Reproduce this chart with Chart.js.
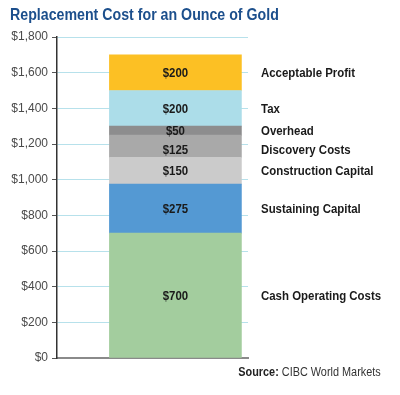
<!DOCTYPE html>
<html>
<head>
<meta charset="utf-8">
<script src="https://cdn.jsdelivr.net/npm/chart.js@4.4.0/dist/chart.umd.min.js"></script>
<style>
    html, body { margin: 0; padding: 0; background: #fff; }
    #wrap { position: relative; width: 400px; height: 395px; }
    #title {
        position: absolute; left: 10px; top: 5px;
        font: bold 16.5px "Liberation Sans", Arial, sans-serif;
        color: #1c4f8c; white-space: nowrap;
        transform: scaleX(0.86); transform-origin: left top;
    }
    #source {
        position: absolute; right: 19px; top: 365px;
        font: 12.5px "Liberation Sans", Arial, sans-serif;
        color: #333; white-space: nowrap;
        transform: scaleX(0.87); transform-origin: right top;
    }
    #source b { color: #222; }
    canvas { position: absolute; left: 0; top: 0; }
</style>
</head>
<body>
<div id="wrap">
    <canvas id="goldChart" width="400" height="395"></canvas>
    <div id="title">Replacement Cost for an Ounce of Gold</div>
    <div id="source"><b>Source:</b> CIBC World Markets</div>
</div>
<script>
// cost components, bottom to top
const components = ['Cash Operating Costs', 'Sustaining Capital', 'Construction Capital', 'Discovery Costs', 'Overhead', 'Tax', 'Acceptable Profit'];
const costs = [700, 275, 150, 125, 50, 200, 200];
const colors = ['#a3cd9e', '#5499d3', '#cbcbcb', '#a9a9a9', '#8d8d8e', '#acdde9', '#fcc024'];
const yTicks = [0, 200, 400, 600, 800, 1000, 1200, 1400, 1600, 1800];
const barPos = 0.62; // where the single bar sits along the hidden x axis

const labelFont = 'bold 13px "Liberation Sans", Arial, sans-serif';

// narrow text: the original uses a condensed face
function condensedText(ctx, text, x, y, sx) {
    ctx.save();
    ctx.translate(x, y);
    ctx.scale(sx, 1);
    ctx.fillText(text, 0, 0);
    ctx.restore();
}

// value inside each segment + component name to the right
const segmentLabels = {
    id: 'segmentLabels',
    afterDatasetsDraw(chart) {
        const ctx = chart.ctx;
        const y = chart.scales.y;
        ctx.save();
        ctx.font = labelFont;
        ctx.fillStyle = '#1a1a1a';
        ctx.textBaseline = 'middle';
        let base = 0;
        costs.forEach((v, i) => {
            const bar = chart.getDatasetMeta(i).data[0];
            let mid = y.getPixelForValue(base + v / 2);
            if (components[i] === 'Discovery Costs') mid += 3;
            ctx.textAlign = 'center';
            condensedText(ctx, '$' + v, bar.x, mid + 1, 0.88);
            ctx.textAlign = 'left';
            condensedText(ctx, components[i], 261, mid + 1, 0.88);
            base += v;
        });
        ctx.restore();
    }
};

new Chart(document.getElementById('goldChart'), {
    type: 'bar',
    data: {
        datasets: costs.map((v, i) => ({
            label: components[i],
            data: [{ x: barPos, y: v }],
            backgroundColor: colors[i],
            borderWidth: 0,
            barThickness: 132
        }))
    },
    options: {
        responsive: false,
        animation: false,
        layout: { padding: { top: 37, right: 152, bottom: 37, left: 0 } },
        plugins: {
            legend: { display: false },
            tooltip: { enabled: false }
        },
        scales: {
            x: {
                type: 'linear',
                min: 0,
                max: 1,
                offset: false,
                stacked: true,
                grid: { display: false },
                ticks: { display: false },
                border: { display: true, color: '#8a8a8a', width: 2 },
                afterFit(scale) { scale.height = 0; }
            },
            y: {
                stacked: true,
                min: 0,
                max: 1800,
                afterBuildTicks(scale) { scale.ticks = yTicks.map(v => ({ value: v })); },
                afterFit(scale) { scale.width = 57; },
                grid: { color: '#b7e1eb', tickColor: '#555', tickLength: 5, lineWidth: 1 },
                border: { color: '#333', width: 1.5 },
                ticks: {
                    padding: 4,
                    color: '#4a4a4a',
                    font: { family: '"Liberation Sans", Arial, sans-serif', size: 12 },
                    callback: v => '$' + v.toLocaleString('en-US')
                }
            }
        }
    },
    plugins: [segmentLabels]
});
</script>
</body>
</html>
